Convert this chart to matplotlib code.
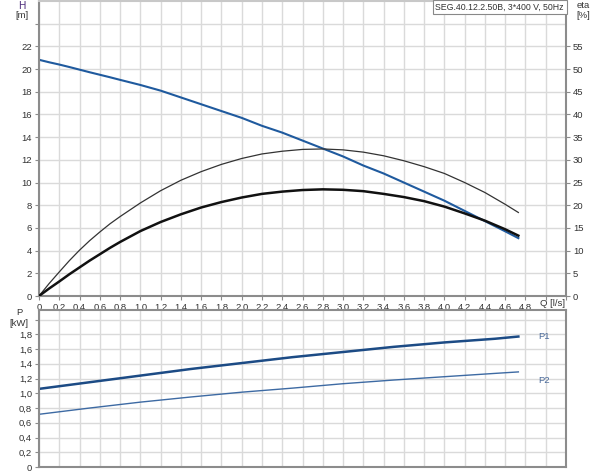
import matplotlib.pyplot as plt

# flow points (l/s)
q = [0, 0.1, 0.2, 0.3, 0.4, 0.5, 0.6, 0.7, 0.8, 1.0, 1.2, 1.4, 1.6, 1.8,
     2.0, 2.2, 2.4, 2.6, 2.8, 3.0, 3.2, 3.4, 3.6, 3.8, 4.0, 4.2, 4.4, 4.6,
     4.73]
head = [20.82, 20.6, 20.4, 20.18, 19.95, 19.72, 19.5, 19.28, 19.05, 18.6,
        18.1, 17.5, 16.9, 16.3, 15.7, 15.0, 14.4, 13.7, 13.0, 12.3, 11.5, 10.8,
        10.0, 9.2, 8.4, 7.5, 6.6, 5.7, 5.1]
eta_pump = [0, 2.75, 5.3, 7.8, 10.1, 12.2, 14.1, 15.9, 17.5, 20.5, 23.2, 25.5,
            27.4, 29.0, 30.3, 31.3, 31.9, 32.3, 32.4, 32.2, 31.7, 30.9, 29.8,
            28.5, 27.0, 25.0, 22.8, 20.2, 18.4]
eta_total = [0, 1.65, 3.2, 4.8, 6.3, 7.8, 9.2, 10.6, 11.9, 14.3, 16.3, 18.0,
             19.5, 20.7, 21.7, 22.5, 23.0, 23.35, 23.5, 23.4, 23.1, 22.5, 21.8,
             20.9, 19.7, 18.2, 16.6, 14.7, 13.3]

q_p = [0, 0.5, 1.0, 1.5, 2.0, 2.5, 3.0, 3.5, 4.0, 4.5, 4.73]
p1 = [1.06, 1.15, 1.24, 1.33, 1.41, 1.49, 1.56, 1.63, 1.69, 1.74, 1.77]
p2 = [0.715, 0.80, 0.88, 0.95, 1.015, 1.07, 1.13, 1.18, 1.225, 1.27, 1.29]

pump_name = 'SEG.40.12.2.50B, 3*400 V, 50Hz'

W, Hpx = 600, 473
plt.rcParams['font.family'] = ['Liberation Sans', 'DejaVu Sans']
fig = plt.figure(figsize=(6, 4.73), dpi=100)
fs = 6.8
txt_c = '#333333'
grid_c = '#dadada'
spine_c = '#8c8c8c'

xt = [round(i * 0.2, 1) for i in range(27)]
xlabels = []
for v in xt:
    if v > 4.85:
        xlabels.append('')
    elif v == 0:
        xlabels.append('0')
    else:
        xlabels.append(f'{v:.1f}'.replace('.', ','))

# upper chart: head and efficiency
ax1 = fig.add_axes([39 / W, (Hpx - 296) / Hpx, (566 - 39) / W, 295 / Hpx])
ax1.set_xlim(0, 5.2)
ax1.set_ylim(0, 26)
ax1.set_xticks(xt)
ax1.set_xticklabels(xlabels, fontsize=fs, color=txt_c)
ax1.set_yticks(range(0, 26, 2))
ax1.set_yticklabels([str(v) if v <= 22 else '' for v in range(0, 26, 2)],
                    fontsize=fs, color=txt_c)
ax1.grid(True, color=grid_c, lw=1)
ax1.set_axisbelow(True)
ax1.tick_params(length=3, width=0.8, color=spine_c, pad=2)
for s in ax1.spines.values():
    s.set_color(spine_c)
    s.set_linewidth(1.5)
ax1.spines['top'].set_color('#c8c8c8')

ax1.plot(q, head, color='#1f5a9e', lw=1.5, solid_joinstyle='round')

ax2 = ax1.twinx()
ax2.set_ylim(0, 65)
ax2.set_yticks(range(0, 60, 5))
ax2.set_yticklabels([str(v) for v in range(0, 60, 5)], fontsize=fs, color=txt_c)
ax2.tick_params(length=3, width=0.8, color=spine_c, pad=2)
for s in ax2.spines.values():
    s.set_visible(False)
ax2.plot(q, eta_pump, color='#333333', lw=0.9, solid_joinstyle='round')
ax2.plot(q, eta_total, color='#111111', lw=1.8, solid_joinstyle='round')

ax1.text(0.996, 0.995, pump_name, transform=ax1.transAxes, ha='right', va='top',
         fontsize=6.3, color=txt_c,
         bbox=dict(boxstyle='square,pad=0.3', fc='white', ec='#888888', lw=0.8))

fig.text(22 / W, 1 - 6 / Hpx, 'H', fontsize=fs + 0.5, color='#4b2a7a', ha='center', va='center')
fig.text(22 / W, 1 - 16 / Hpx, '[m]', fontsize=fs, color=txt_c, ha='center', va='center')
fig.text(583 / W, 1 - 6 / Hpx, 'eta', fontsize=fs, color=txt_c, ha='center', va='center')
fig.text(583 / W, 1 - 16 / Hpx, '[%]', fontsize=fs, color=txt_c, ha='center', va='center')
fig.text(553 / W, 1 - 304 / Hpx, 'Q [l/s]', fontsize=fs, color=txt_c, ha='center', va='center')

# lower chart: power
ax3 = fig.add_axes([39 / W, (Hpx - 467) / Hpx, (566 - 39) / W, 157 / Hpx])
ax3.set_xlim(0, 5.2)
ax3.set_ylim(0, 2.13)
ax3.set_xticks(xt)
ax3.set_xticklabels([])
ax3.tick_params(axis='x', length=0)
pt = [round(i * 0.2, 1) for i in range(11)]
ax3.set_yticks(pt)
ax3.set_yticklabels(['0' if v == 0 else ('' if v >= 2 else f'{v:.1f}'.replace('.', ','))
                     for v in pt], fontsize=fs, color=txt_c)
ax3.tick_params(axis='y', length=3, width=0.8, color=spine_c, pad=2)
ax3.grid(True, color=grid_c, lw=1)
ax3.set_axisbelow(True)
for s in ax3.spines.values():
    s.set_color(spine_c)
    s.set_linewidth(1.5)

ax3.plot(q_p, p1, color='#1c4b85', lw=1.8)
ax3.plot(q_p, p2, color='#3d6aa3', lw=1.0)
ax3.text(4.93, 1.77, 'P1', fontsize=fs, color='#4a6a9a', va='center')
ax3.text(4.93, 1.17, 'P2', fontsize=fs, color='#4a6a9a', va='center')

fig.text(19 / W, 1 - 312 / Hpx, 'P', fontsize=fs, color=txt_c, ha='center', va='center')
fig.text(19 / W, 1 - 323 / Hpx, '[kW]', fontsize=fs, color=txt_c, ha='center', va='center')

fig.savefig('out.png', dpi=100)
